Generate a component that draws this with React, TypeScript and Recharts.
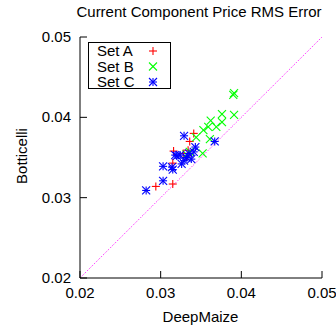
import React from 'react';
import { ScatterChart, Scatter, XAxis, YAxis, ReferenceLine } from 'recharts';

const xTicks = [0.02, 0.03, 0.04, 0.05];
const yTicks = [0.02, 0.03, 0.04, 0.05];
const tickLabels = ['0.02', '0.03', '0.04', '0.05'];
const diagonal = [0.02, 0.05];

const setAX = [0.0294, 0.0315, 0.0315, 0.0316, 0.0336, 0.0341, 0.0334, 0.0328, 0.0333];
const setAY = [0.0314, 0.0317, 0.0343, 0.0358, 0.0370, 0.0380, 0.0359, 0.0355, 0.0352];

const setBX = [0.0390, 0.0391, 0.0391, 0.0376, 0.0376, 0.0369, 0.0362, 0.0359, 0.0353, 0.0344, 0.0361, 0.0352, 0.0336, 0.0332];
const setBY = [0.0428, 0.0430, 0.0403, 0.0404, 0.0394, 0.0388, 0.0396, 0.0388, 0.0384, 0.0375, 0.0373, 0.0355, 0.0357, 0.0354];

const setCX = [0.0282, 0.0303, 0.0303, 0.0314, 0.0315, 0.0318, 0.0320, 0.0324, 0.0326, 0.0329, 0.0329, 0.0343, 0.0341, 0.0332, 0.0367, 0.0335, 0.0338];
const setCY = [0.0309, 0.0321, 0.0339, 0.0338, 0.0335, 0.0353, 0.0352, 0.0353, 0.0342, 0.0346, 0.0377, 0.0363, 0.0357, 0.0350, 0.0370, 0.0355, 0.0348];

const toPoints = (xs: number[], ys: number[]) => xs.map((x, i) => ({ x, y: ys[i] }));
const dataA = toPoints(setAX, setAY);
const dataB = toPoints(setBX, setBY);
const dataC = toPoints(setCX, setCY);

const FONT = "'Liberation Sans', Arial, Helvetica, sans-serif";
const R = 4;

const Plus = (props: any) => {
  const { cx, cy } = props;
  return (
    <g stroke="#ff0000" strokeWidth={1.1}>
      <line x1={cx - R} y1={cy} x2={cx + R} y2={cy} />
      <line x1={cx} y1={cy - R} x2={cx} y2={cy + R} />
    </g>
  );
};
const Cross = (props: any) => {
  const { cx, cy } = props;
  return (
    <g stroke="#00ff00" strokeWidth={1.1}>
      <line x1={cx - R} y1={cy - R} x2={cx + R} y2={cy + R} />
      <line x1={cx - R} y1={cy + R} x2={cx + R} y2={cy - R} />
    </g>
  );
};
const Star = (props: any) => {
  const { cx, cy } = props;
  return (
    <g stroke="#0000ff" strokeWidth={1.1}>
      <line x1={cx - R} y1={cy} x2={cx + R} y2={cy} />
      <line x1={cx} y1={cy - R} x2={cx} y2={cy + R} />
      <line x1={cx - R} y1={cy - R} x2={cx + R} y2={cy + R} />
      <line x1={cx - R} y1={cy + R} x2={cx + R} y2={cy - R} />
    </g>
  );
};

const XTick = (props: any) => {
  const { x, y, index } = props;
  return (
    <g>
      <line x1={x} y1={y} x2={x} y2={y - 7} stroke="#000" />
      <text x={x} y={y + 20} textAnchor="middle" fontSize={15} fontFamily={FONT} fill="#000">
        {tickLabels[index]}
      </text>
    </g>
  );
};
const YTick = (props: any) => {
  const { x, y, index } = props;
  return (
    <g>
      <line x1={x} y1={y} x2={x + 7} y2={y} stroke="#000" />
      <text x={x - 9} y={y + 5} textAnchor="end" fontSize={15} fontFamily={FONT} fill="#000">
        {tickLabels[index]}
      </text>
    </g>
  );
};

const legendItems = [
  { name: 'Set A', Shape: Plus },
  { name: 'Set B', Shape: Cross },
  { name: 'Set C', Shape: Star },
];

const LegendBox = () => (
  <div
    style={{
      position: 'absolute',
      left: 88,
      top: 42,
      width: 81,
      height: 45,
      border: '1px solid #000',
      background: '#fff',
      fontFamily: FONT,
      fontSize: 15,
    }}
  >
    {legendItems.map((it, i) => (
      <div key={it.name} style={{ position: 'absolute', left: 8, top: i * 15.5, height: 16, lineHeight: '16px' }}>
        {it.name}
      </div>
    ))}
    <svg width={81} height={45} style={{ position: 'absolute', left: 0, top: 0 }}>
      {legendItems.map((it, i) => (
        <it.Shape key={it.name} cx={64} cy={8 + i * 15.5} />
      ))}
    </svg>
  </div>
);

export default function App() {
  return (
    <div style={{ position: 'absolute', left: 0, top: 0, width: 336, height: 330, background: '#fff' }}>
      <svg width={336} height={330} style={{ position: 'absolute', left: 0, top: 0 }}>
        <text x={199} y={17} textAnchor="middle" fontSize={15} fontFamily={FONT} fill="#000">
          Current Component Price RMS Error
        </text>
        <text x={200.5} y={322} textAnchor="middle" fontSize={15} fontFamily={FONT} fill="#000">
          DeepMaize
        </text>
        <text
          x={0}
          y={0}
          transform="translate(27,156) rotate(-90)"
          textAnchor="middle"
          fontSize={15}
          fontFamily={FONT}
          fill="#000"
        >
          Botticelli
        </text>
      </svg>
      <div style={{ position: 'absolute', left: 0, top: 0 }}>
        <ScatterChart width={336} height={330} margin={{ top: 37, right: 14, bottom: 0, left: 0 }}>
          <XAxis
            type="number"
            dataKey="x"
            domain={[0.02, 0.05]}
            ticks={xTicks}
            allowDataOverflow
            height={52}
            tickSize={0}
            tickMargin={0}
            tickLine={false}
            axisLine={{ stroke: '#000' }}
            tick={<XTick />}
            interval={0}
          />
          <YAxis
            type="number"
            dataKey="y"
            domain={[0.02, 0.05]}
            ticks={yTicks}
            allowDataOverflow
            width={80}
            tickSize={0}
            tickMargin={0}
            tickLine={false}
            axisLine={{ stroke: '#000' }}
            tick={<YTick />}
            interval={0}
          />
          <ReferenceLine
            segment={[
              { x: diagonal[0], y: diagonal[0] },
              { x: diagonal[1], y: diagonal[1] },
            ]}
            stroke="#ff00ff"
            strokeWidth={1}
            strokeDasharray="1 1.5"
            ifOverflow="visible"
          />
          <Scatter name="Set A" data={dataA} shape={<Plus />} isAnimationActive={false} />
          <Scatter name="Set B" data={dataB} shape={<Cross />} isAnimationActive={false} />
          <Scatter name="Set C" data={dataC} shape={<Star />} isAnimationActive={false} />
        </ScatterChart>
      </div>
      <LegendBox />
    </div>
  );
}
